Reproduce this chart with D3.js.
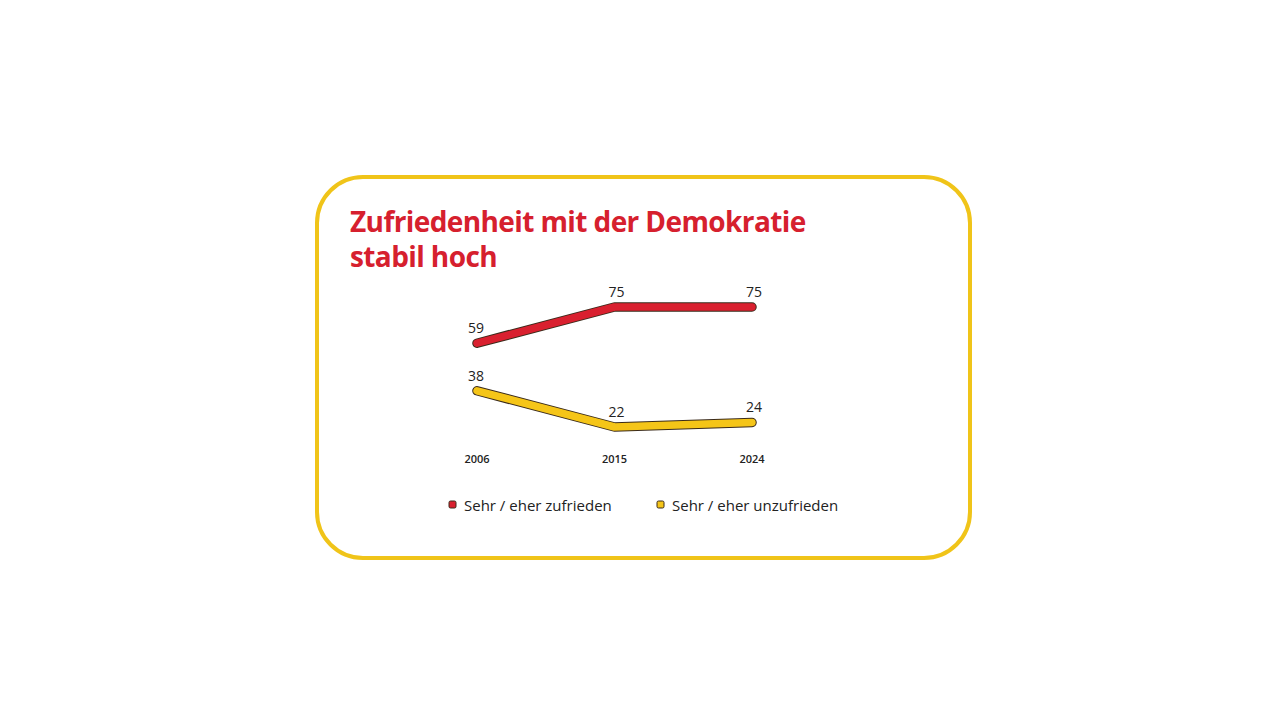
<!DOCTYPE html>
<html><head><meta charset="utf-8">
<script src="https://cdn.jsdelivr.net/npm/d3@7"></script>
<style>body{margin:0;background:#fff}</style></head>
<body><svg id="c" width="1280" height="720"></svg>
<script>
// Data
const years = ["2006", "2015", "2024"];
const zufrieden = [59, 75, 75];
const unzufrieden = [38, 22, 24];
const seriesNames = ["Sehr / eher zufrieden", "Sehr / eher unzufrieden"];
const titleLines = ["Zufriedenheit mit der Demokratie", "stabil hoch"];
const colors = ["#d9202f", "#f5c518"];

const svg = d3.select("#c");
const font = "'Open Sans', sans-serif";

//Frame
svg.append("rect").attr("x", 317).attr("y", 177).attr("width", 653).attr("height", 381)
    .attr("rx", 46).attr("fill", "#fff").attr("stroke", "#f0c419").attr("stroke-width", 4);

//Title
svg.selectAll(null).data(titleLines).enter().append("text")
    .attr("x", 350).attr("y", (d, i) => 232 + i * 35).attr("fill", "#d6202e")
    .style("font-family", font).style("font-weight", 700).style("font-size", "28px")
    .style("letter-spacing", "-0.6px")
    .text(d => d);

//Scales
const x = d3.scalePoint().domain(years).range([477, 752]);
const y = d3.scaleLinear().domain([22, 75]).range([427, 307]);

const line = d3.line().x((d, i) => x(years[i])).y(d => y(d));

[zufrieden, unzufrieden].forEach((vals, s) => {
    svg.append("path").attr("d", line(vals)).attr("fill", "none")
        .attr("stroke", "#3a2a1a").attr("stroke-width", 9.5).attr("stroke-linejoin", "round").attr("stroke-linecap", "round");
    svg.append("path").attr("d", line(vals)).attr("fill", "none")
        .attr("stroke", colors[s]).attr("stroke-width", 7.5).attr("stroke-linejoin", "round").attr("stroke-linecap", "round");
    svg.selectAll(null).data(vals).enter().append("text")
        .attr("x", (d, i) => x(years[i]) + (i === 0 ? -1 : 2))
        .attr("y", (d, i) => y(d) - 10)
        .attr("text-anchor", "middle").attr("fill", "#222")
        .style("font-family", font).style("font-size", "14px").style("font-weight", 500)
        .text(d => d);
});

//X labels
svg.selectAll(null).data(years).enter().append("text")
    .attr("x", d => x(d)).attr("y", 463).attr("text-anchor", "middle").attr("fill", "#222")
    .style("font-family", font).style("font-size", "11px").style("font-weight", 600)
    .text(d => d);

//Legend
const legX = [449, 657];
seriesNames.forEach((n, i) => {
    svg.append("rect").attr("x", legX[i]).attr("y", 501).attr("width", 7).attr("height", 7).attr("rx", 1.5)
        .attr("fill", colors[i]).attr("stroke", "#3a2a1a").attr("stroke-width", 1);
    svg.append("text").attr("x", legX[i] + 15).attr("y", 511).attr("fill", "#222")
        .style("font-family", font).style("font-size", "15px")
        .text(n);
});
</script></body></html>
